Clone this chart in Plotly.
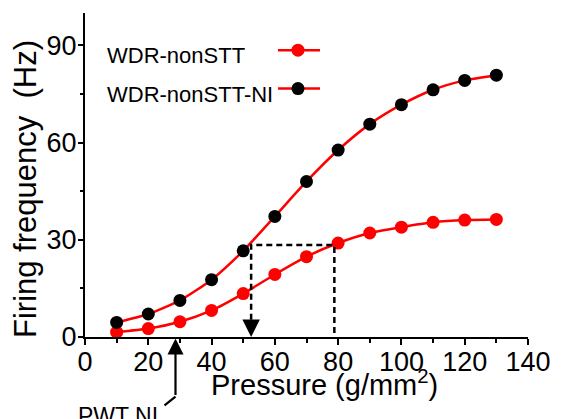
import plotly.graph_objects as go

# Stimulus pressure (g/mm^2) and mean firing frequency (Hz)
pressure = [10, 20, 30, 40, 50, 60, 70, 80, 90, 100, 110, 120, 130]
wdr_nonstt = [1.5, 2.6, 4.7, 8.2, 13.4, 19.3, 24.8, 29.0, 32.1, 33.9, 35.4, 36.1, 36.3]
wdr_nonstt_ni = [4.5, 7.1, 11.3, 17.7, 26.6, 37.2, 48.0, 57.7, 65.7, 71.7, 76.3, 79.2, 80.8]

# Reference levels: equal-response level and the pressures where each curve reaches it
response_level = 28.4
pressure_at_level_ni = 52.5
pressure_at_level = 78.8
pwt_ni = 28.6

series_names = ["WDR-nonSTT", "WDR-nonSTT-NI"]
x_ticks = [0, 20, 40, 60, 80, 100, 120, 140]
y_ticks = [0, 30, 60, 90]

RED = "#ff0000"
FONT = "Liberation Sans, Arial, sans-serif"

fig = go.Figure()

fig.add_trace(go.Scatter(
    x=pressure, y=wdr_nonstt, mode="lines+markers", name=series_names[0],
    line=dict(color=RED, width=2.5, shape="spline", smoothing=0.6),
    marker=dict(color=RED, size=13), cliponaxis=False, showlegend=False,
))
fig.add_trace(go.Scatter(
    x=pressure, y=wdr_nonstt_ni, mode="lines+markers", name=series_names[1],
    line=dict(color=RED, width=2.5, shape="spline", smoothing=0.6),
    marker=dict(color="black", size=13), cliponaxis=False, showlegend=False,
))

# dashed guide: down from the NI curve, across, and down from the control curve
head_len = 5.3
fig.add_trace(go.Scatter(
    x=[pressure_at_level_ni, pressure_at_level_ni, pressure_at_level, pressure_at_level],
    y=[head_len, response_level, response_level, 0],
    mode="lines", line=dict(color="black", width=2.5, dash="6px,4px"),
    hoverinfo="skip", showlegend=False,
))

annotations = [
    # arrowhead at the bottom of the dashed guide
    dict(x=pressure_at_level_ni, y=0, ax=pressure_at_level_ni, ay=head_len,
         xref="x", yref="y", axref="x", ayref="y", text="", showarrow=True,
         arrowhead=2, arrowsize=1.4, arrowwidth=2.5, arrowcolor="black"),
    # PWT NI pointer below the axis (vertical part with head, then the bent tail)
    dict(x=pwt_ni, y=-0.005, xref="x", yref="paper", ax=0, ay=58,
         text="", showarrow=True,
         arrowhead=2, arrowsize=1.45, arrowwidth=2.2, arrowcolor="black"),
    dict(x=pwt_ni, y=-0.184, xref="x", yref="paper", ax=-12.5, ay=10,
         text="", showarrow=True,
         arrowhead=0, arrowwidth=2.2, arrowcolor="black"),
    dict(x=0.0756, y=-0.243, xref="paper", yref="paper", text="PWT NI", showarrow=False,
         xanchor="center", yanchor="middle", font=dict(family=FONT, size=23, color="black")),
    # axis titles
    dict(x=-0.133, y=0.457, xref="paper", yref="paper", text="Firing frequency\u00a0 (Hz)",
         textangle=-90, showarrow=False, xanchor="center", yanchor="middle",
         font=dict(family=FONT, size=31, color="black")),
    dict(x=0.54, y=-0.143, xref="paper", yref="paper", text="Pressure (g/mm<sup>2</sup>)",
         showarrow=False, xanchor="center", yanchor="middle",
         font=dict(family=FONT, size=29, color="black")),
]

# legend: label on the left, line-and-marker key on the right
legend_rows = [(0.8854, RED), (0.7667, "black")]
shapes = []
for name, (ky, mcolor) in zip(series_names, legend_rows):
    annotations.append(dict(
        x=0.045, y=ky - 0.018, xref="paper", yref="paper", text=name, showarrow=False,
        xanchor="left", yanchor="middle", font=dict(family=FONT, size=22, color="black"),
    ))
    shapes.append(dict(type="line", xref="paper", yref="paper", x0=0.4357, x1=0.5305,
                       y0=ky, y1=ky, line=dict(color=RED, width=2.5)))
    shapes.append(dict(type="circle", xref="paper", yref="paper",
                       xsizemode="pixel", ysizemode="pixel", xanchor=0.4808, yanchor=ky,
                       x0=-6.5, x1=6.5, y0=-6.5, y1=6.5,
                       fillcolor=mcolor, line=dict(color=mcolor, width=0)))

axis_common = dict(
    showline=True, linecolor="black", linewidth=2, showgrid=False, zeroline=False,
    ticks="outside", tickcolor="black", tickwidth=2,
    tickfont=dict(family=FONT, size=27, color="black"),
)

fig.update_layout(
    width=563, height=419,
    margin=dict(l=85, r=35, t=13, b=82),
    paper_bgcolor="white", plot_bgcolor="white",
    xaxis=dict(range=[0, 140], tickvals=x_ticks, ticklen=6, ticklabelstandoff=-6,
               minor=dict(dtick=10, ticks="outside", ticklen=4, tickwidth=2, tickcolor="black"),
               **axis_common),
    yaxis=dict(range=[0, 100], tickvals=y_ticks, ticklen=5, ticklabelstandoff=-4,
               minor=dict(dtick=15, ticks="outside", ticklen=3, tickwidth=2, tickcolor="black"),
               **axis_common),
    annotations=annotations,
    shapes=shapes,
    showlegend=False,
)

fig.write_html("out.html")
